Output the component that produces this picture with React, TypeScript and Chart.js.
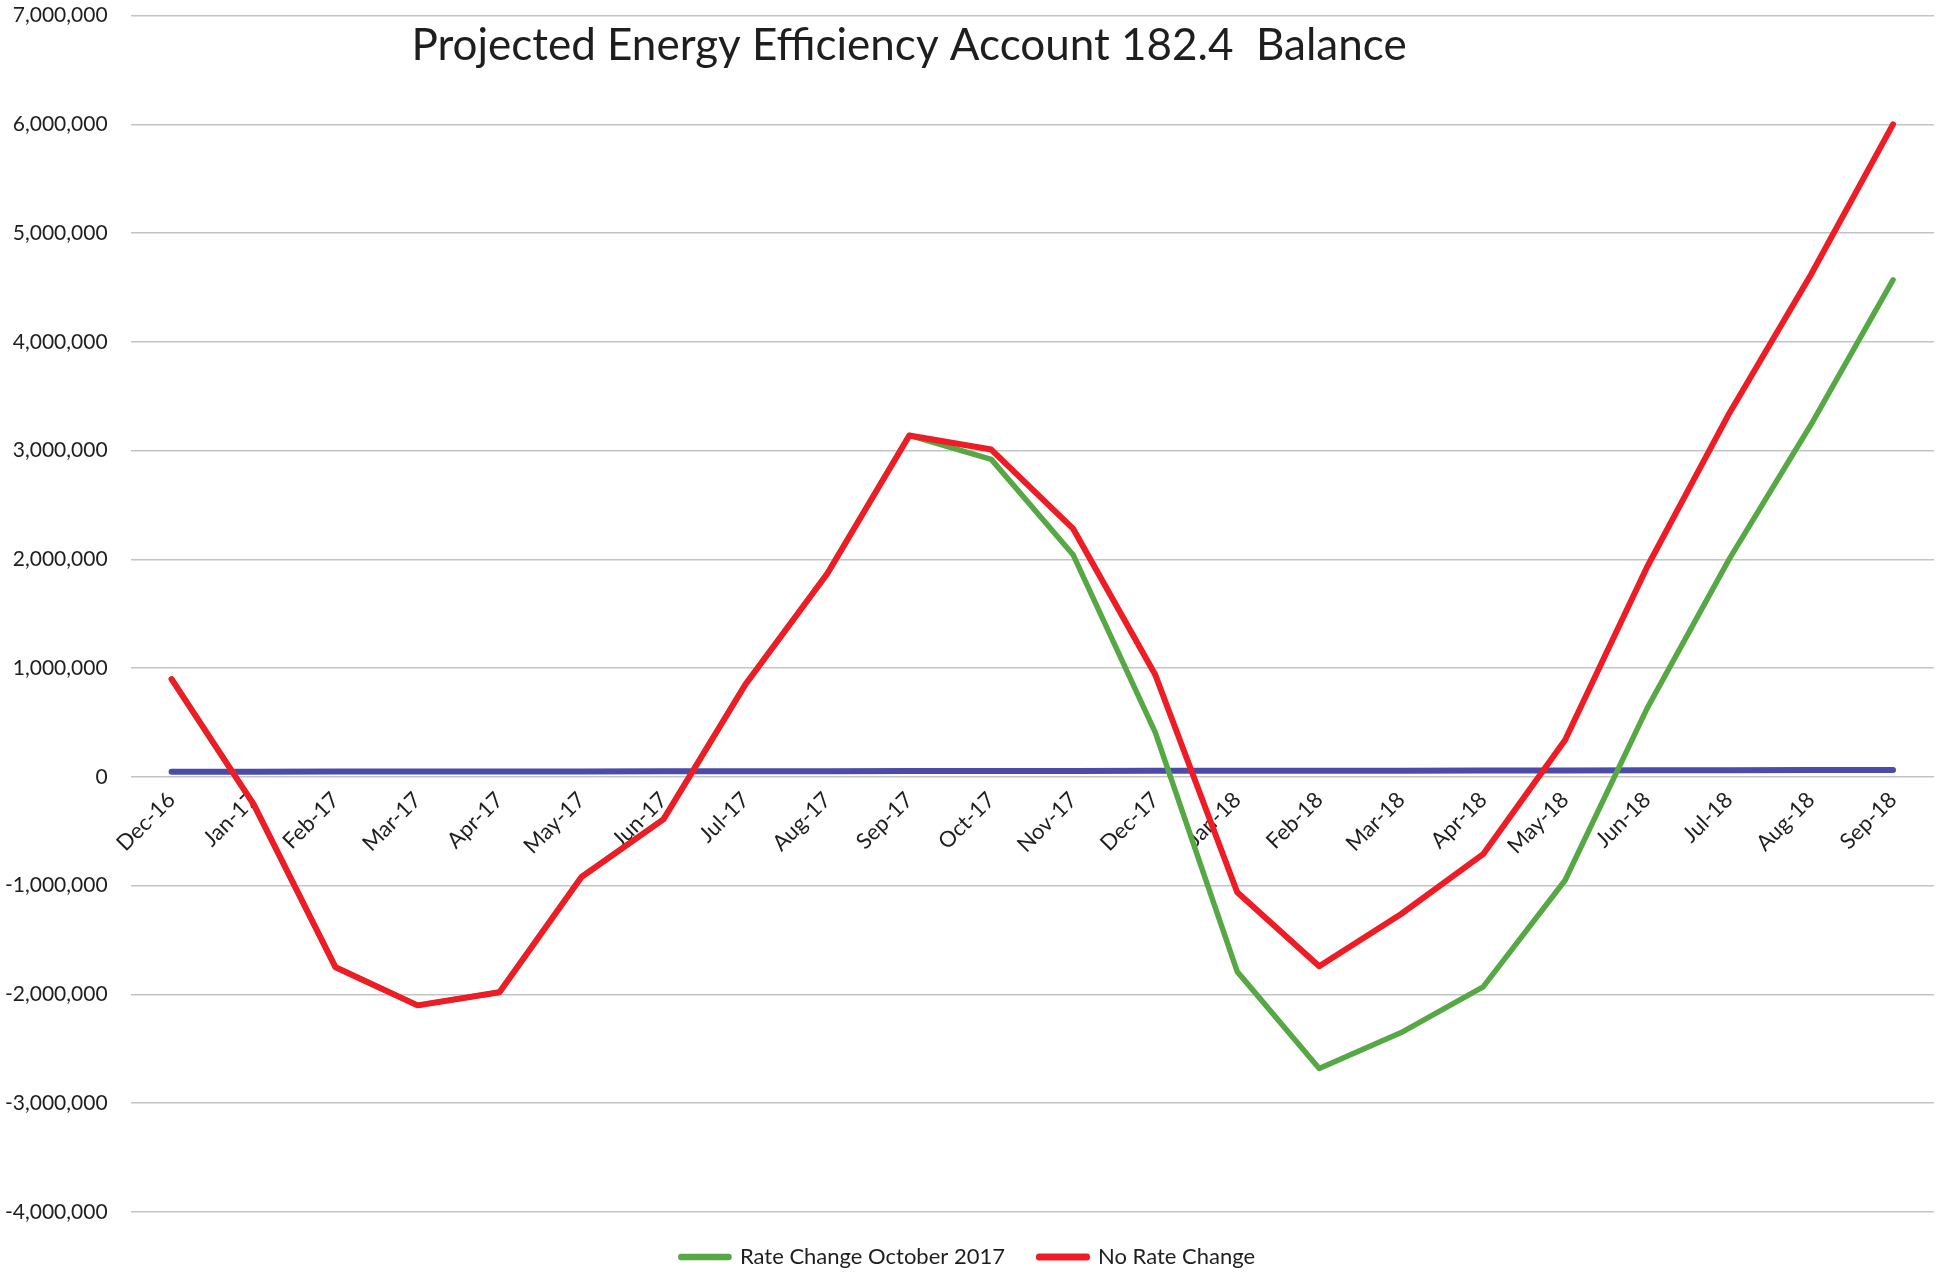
import React, { useEffect, useRef } from 'react';
import { Chart, registerables } from 'chart.js';

Chart.register(...registerables);

const months = [
  'Dec-16', 'Jan-17', 'Feb-17', 'Mar-17', 'Apr-17', 'May-17', 'Jun-17', 'Jul-17', 'Aug-17', 'Sep-17', 'Oct-17',
  'Nov-17', 'Dec-17', 'Jan-18', 'Feb-18', 'Mar-18', 'Apr-18', 'May-18', 'Jun-18', 'Jul-18', 'Aug-18', 'Sep-18',
];

const rateChangeOct2017 = [
  900000, -250000, -1750000, -2100000, -1980000, -920000, -390000, 850000, 1870000, 3140000, 2920000,
  2040000, 410000, -1790000, -2680000, -2350000, -1930000, -950000, 630000, 2000000, 3240000, 4570000,
];

const noRateChange = [
  900000, -250000, -1750000, -2100000, -1980000, -920000, -390000, 850000, 1870000, 3140000, 3010000,
  2280000, 940000, -1060000, -1740000, -1260000, -710000, 340000, 1930000, 3340000, 4620000, 6000000,
];

const baseline = [
  48000, 48000, 49000, 50000, 50000, 51000, 52000, 52000, 53000, 54000, 55000,
  55000, 56000, 57000, 58000, 58000, 59000, 60000, 61000, 62000, 63000, 64000,
];

const seriesNames = ['Rate Change October 2017', 'No Rate Change'];
const chartTitle = 'Projected Energy Efficiency Account 182.4  Balance';
const yMin = -4000000;
const yMax = 7000000;
const yStep = 1000000;

const FONT = 'Lato';
const TEXT = '#1e1e1e';

const titlePlugin = {
  id: 'floatingTitle',
  afterDraw(chart: any) {
    const { ctx } = chart;
    ctx.save();
    ctx.font = `44px ${FONT}`;
    ctx.fillStyle = TEXT;
    ctx.textAlign = 'center';
    ctx.textBaseline = 'middle';
    ctx.fillText(chartTitle, 909, 46);
    ctx.restore();
  },
};

export default function App() {
  const ref = useRef<HTMLCanvasElement | null>(null);

  useEffect(() => {
    if (!ref.current) return;
    const chart = new Chart(ref.current, {
      type: 'line',
      data: {
        labels: months,
        datasets: [
          {
            label: seriesNames[0],
            data: rateChangeOct2017,
            borderColor: '#56a844',
            backgroundColor: '#56a844',
            borderWidth: 5.5,
            pointRadius: 0,
            tension: 0,
            order: 2,
            borderCapStyle: 'round',
            borderJoinStyle: 'round',
          },
          {
            label: seriesNames[1],
            data: noRateChange,
            borderColor: '#ee1c25',
            backgroundColor: '#ee1c25',
            borderWidth: 6,
            pointRadius: 0,
            tension: 0,
            order: 1,
            borderCapStyle: 'round',
            borderJoinStyle: 'round',
          },
          {
            label: 'baseline',
            data: baseline,
            borderColor: '#4b4bab',
            backgroundColor: '#4b4bab',
            borderWidth: 6,
            pointRadius: 0,
            tension: 0,
            order: 3,
            borderCapStyle: 'round',
          },
        ],
      },
      options: {
        responsive: false,
        animation: false,
        layout: { padding: { left: 2, right: 6, top: 0, bottom: -5 } },
        plugins: {
          tooltip: { enabled: false },
          title: { display: false },
          legend: {
            position: 'bottom',
            labels: {
              boxWidth: 48,
              boxHeight: 1,
              padding: 34,
              color: TEXT,
              font: { family: FONT, size: 22 },
              filter: (item: any) => item.datasetIndex !== 2,
              sort: (a: any, b: any) => a.datasetIndex - b.datasetIndex,
            },
          },
        },
        scales: {
          x: {
            type: 'category',
            position: { y: 0 } as any,
            offset: true,
            grid: { display: false },
            border: { display: false },
            ticks: {
              autoSkip: false,
              minRotation: 45,
              maxRotation: 45,
              padding: 2,
              color: TEXT,
              font: { family: FONT, size: 22 },
            },
          },
          y: {
            min: yMin,
            max: yMax,
            border: { display: false },
            grid: {
              color: '#c4c4c4',
              lineWidth: 1.5,
              drawTicks: true,
              tickLength: 20,
              tickColor: 'rgba(0,0,0,0)',
            },
            ticks: {
              stepSize: yStep,
              padding: 3,
              color: TEXT,
              font: { family: FONT, size: 21 },
              callback: (v: any) => Number(v).toLocaleString('en-US'),
            },
          },
        },
      },
      plugins: [titlePlugin],
    } as any);
    return () => chart.destroy();
  }, []);

  return (
    <div style={{ position: 'absolute', left: 0, top: 0, width: 1940, height: 1273, background: '#fff' }}>
      <canvas ref={ref} width={1940} height={1273} style={{ display: 'block' }} />
    </div>
  );
}
